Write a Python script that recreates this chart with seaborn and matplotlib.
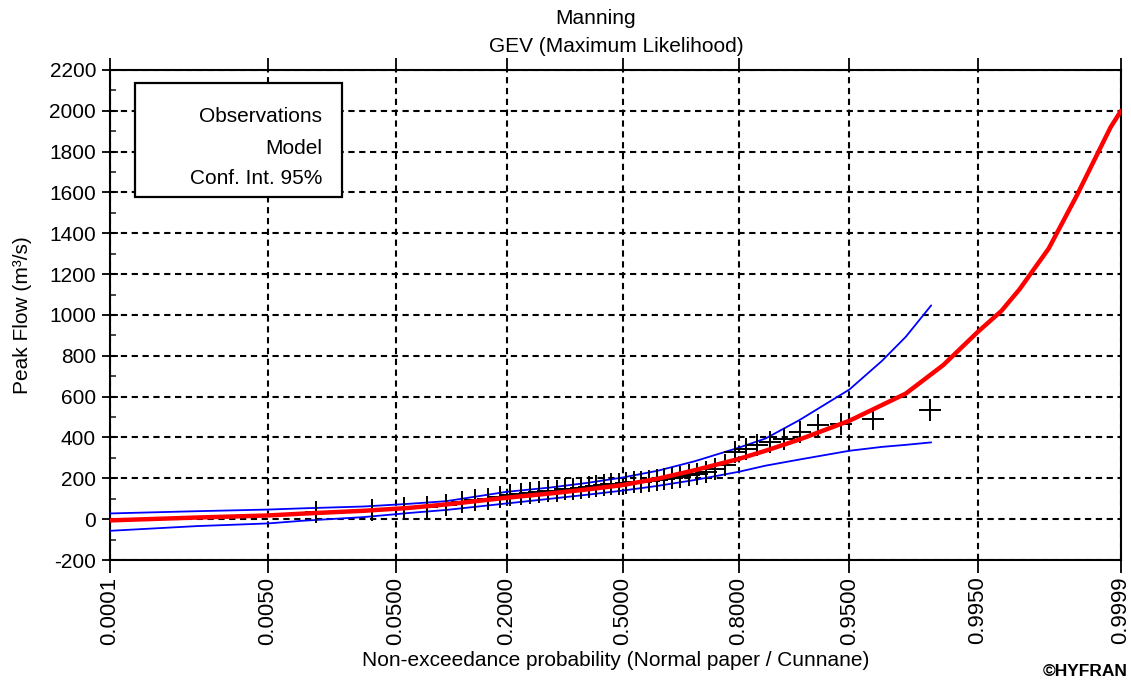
import math
import numpy as np
import pandas as pd
import matplotlib
matplotlib.use("Agg")
import matplotlib.pyplot as plt
from matplotlib.patches import Rectangle
from matplotlib.ticker import MultipleLocator, FixedLocator, FixedFormatter, FuncFormatter
import seaborn as sns

# ---------------- data ----------------
model_p = [0.0001, 0.001, 0.005, 0.01, 0.03, 0.06, 0.1, 0.2, 0.3, 0.4, 0.5,
           0.6, 0.7, 0.8, 0.85, 0.9, 0.95, 0.98, 0.99, 0.995, 0.997, 0.998,
           0.999, 0.9995, 0.9998, 0.99985]
model_q = [-6, 8, 18, 27, 41, 55, 72, 105, 126, 146, 167,
           198, 240, 295, 335, 390, 482, 615, 755, 917, 1020, 1125,
           1325, 1580, 1920, 2000]

ci_p = [0.0001, 0.001, 0.005, 0.01, 0.03, 0.06, 0.1, 0.2, 0.3, 0.4, 0.5,
        0.6, 0.7, 0.8, 0.85, 0.9, 0.95, 0.97, 0.98, 0.9874]
ci_upper = [28, 39, 47, 53, 62, 75, 88, 134, 155, 178, 204,
            237, 284, 350, 395, 485, 635, 775, 893, 1047]
ci_lower = [-57, -34, -21, -8, 10, 30, 45, 77, 100, 120, 140,
            163, 192, 232, 262, 292, 335, 354, 364, 376]

# observed annual peak flows, sorted ascending (plotted at Cunnane positions)
obs_q = [36, 44, 54, 60, 69, 85, 93, 101, 109, 120,
         124, 128, 132, 136, 140, 146, 150, 153, 158, 162,
         166, 170, 172, 176, 180, 183, 187, 192, 197, 202,
         208, 214, 222, 232, 245, 265, 330, 346, 363, 379,
         391, 428, 461, 465, 489, 534]

x_ticks = [0.0001, 0.0050, 0.0500, 0.2000, 0.5000, 0.8000, 0.9500, 0.9950, 0.99985]
x_tick_labels = ["0.0001", "0.0050", "0.0500", "0.2000", "0.5000",
                 "0.8000", "0.9500", "0.9950", "0.9999"]
y_ticks = list(range(-200, 2201, 200))

title_lines = ["Manning", "GEV (Maximum Likelihood)"]
legend_labels = ["Observations", "Model", "Conf. Int. 95%"]

# ---------------- normal probability scale ----------------
_a = [-3.969683028665376e+01, 2.209460984245205e+02, -2.759285104469687e+02,
      1.383577518672690e+02, -3.066479806614716e+01, 2.506628277459239e+00]
_b = [-5.447609879822406e+01, 1.615858368580409e+02, -1.556989798598866e+02,
      6.680131188771972e+01, -1.328068155288572e+01]
_c = [-7.784894002430293e-03, -3.223964580411365e-01, -2.400758277161838e+00,
      -2.549732539343734e+00, 4.374664141464968e+00, 2.938163982698783e+00]
_d = [7.784695709041462e-03, 3.224671290700398e-01, 2.445134137142996e+00,
      3.754408661907416e+00]


def _ppf_scalar(p):
    p = min(max(p, 1e-12), 1 - 1e-12)
    plow = 0.02425
    if p < plow:
        q = math.sqrt(-2 * math.log(p))
        return (((((_c[0]*q+_c[1])*q+_c[2])*q+_c[3])*q+_c[4])*q+_c[5]) / \
               ((((_d[0]*q+_d[1])*q+_d[2])*q+_d[3])*q+1)
    if p > 1 - plow:
        q = math.sqrt(-2 * math.log(1 - p))
        return -(((((_c[0]*q+_c[1])*q+_c[2])*q+_c[3])*q+_c[4])*q+_c[5]) / \
                ((((_d[0]*q+_d[1])*q+_d[2])*q+_d[3])*q+1)
    q = p - 0.5
    r = q * q
    return (((((_a[0]*r+_a[1])*r+_a[2])*r+_a[3])*r+_a[4])*r+_a[5])*q / \
           (((((_b[0]*r+_b[1])*r+_b[2])*r+_b[3])*r+_b[4])*r+1)


def forward(p):
    arr = np.asarray(p, dtype=float)
    out = np.array([_ppf_scalar(v) if np.isfinite(v) else v for v in arr.ravel()])
    return out.reshape(arr.shape)


def inverse(z):
    arr = np.asarray(z, dtype=float)
    out = np.array([0.5 * (1 + math.erf(v / math.sqrt(2))) if np.isfinite(v) else v
                    for v in arr.ravel()])
    return out.reshape(arr.shape)


# ---------------- styling ----------------
sns.set_theme(style="white")
plt.rcParams["font.family"] = ["Liberation Sans", "DejaVu Sans"]
plt.rcParams["axes.linewidth"] = 1.5

fig = plt.figure(figsize=(11.31, 6.85), dpi=100)
ax = fig.add_axes([110 / 1131, 1 - 560 / 685, 1011 / 1131, 490 / 685])
ax.set_xscale("function", functions=(forward, inverse))

n = len(obs_q)
obs_p = [(i + 1 - 0.4) / (n + 0.2) for i in range(n)]

model_df = pd.DataFrame({"p": model_p, "q": model_q})
ci_df = pd.DataFrame({"p": ci_p, "upper": ci_upper, "lower": ci_lower})
obs_df = pd.DataFrame({"p": obs_p, "q": obs_q})

sns.lineplot(data=ci_df, x="p", y="upper", ax=ax, color="#0000ff", lw=1.3,
             estimator=None, zorder=3)
sns.lineplot(data=ci_df, x="p", y="lower", ax=ax, color="#0000ff", lw=1.3,
             estimator=None, zorder=3)
sns.scatterplot(data=obs_df, x="p", y="q", ax=ax, marker="+", s=230,
                color="black", linewidth=1.4, zorder=4)
sns.lineplot(data=model_df, x="p", y="q", ax=ax, color="#ff0000", lw=3.2,
             estimator=None, zorder=5)

ax.set_xlim(x_ticks[0], x_ticks[-1])
ax.set_ylim(-200, 2200)

ax.xaxis.set_major_locator(FixedLocator(x_ticks))
ax.xaxis.set_major_formatter(FixedFormatter(x_tick_labels))
ax.xaxis.set_minor_locator(FixedLocator([]))
ax.yaxis.set_major_locator(FixedLocator(y_ticks))
ax.yaxis.set_minor_locator(MultipleLocator(100))
ax.yaxis.set_major_formatter(FuncFormatter(lambda v, _: f"{int(round(v))}"))

ax.tick_params(axis="x", which="major", direction="out", length=9, width=1.3,
               labelsize=16, labelrotation=90, pad=3, colors="black",
               top=True, bottom=True)
ax.tick_params(axis="y", which="major", direction="inout", length=12, width=1.3,
               labelsize=15, pad=4, colors="black", left=True, right=False)
ax.tick_params(axis="y", which="minor", direction="in", length=4, width=1.2,
               left=True, right=False)

ax.grid(True, which="major", color="black", linestyle=(0, (3, 2.2)), linewidth=1.5)
ax.set_axisbelow(True)
for s in ax.spines.values():
    s.set_color("black")
    s.set_linewidth(1.5)

ax.set_xlabel("Non-exceedance probability (Normal paper / Cunnane)", fontsize=15,
              color="black")
ax.set_ylabel("Peak Flow (m³/s)", fontsize=15, color="black")
ax.xaxis.set_label_coords(0.5, (560 - 651) / 490)
ax.yaxis.set_label_coords((32 - 110) / 1011, 0.5)

# titles
fig.text(596 / 1131, 1 - 18 / 685, title_lines[0], ha="center", va="center",
         fontsize=15, color="black")
fig.text(616 / 1131, 1 - 47 / 685, title_lines[1], ha="center", va="center",
         fontsize=15, color="black")

# legend box (text only)
ax.add_patch(Rectangle((25 / 1011, (560 - 197) / 490), (342 - 135) / 1011,
                       (197 - 83) / 490, transform=ax.transAxes, facecolor="white",
                       edgecolor="black", linewidth=1.6, zorder=10))
for lab, ypix in zip(legend_labels, [117, 149, 178]):
    ax.text((322 - 110) / 1011, (560 - ypix) / 490, lab, transform=ax.transAxes,
            ha="right", va="center", fontsize=15, color="black", zorder=11)

fig.text(1128 / 1131, 1 - 672 / 685, "©HYFRAN", ha="right", va="center",
         fontsize=12.5, fontweight="bold", color="black")

fig.savefig("out.png", dpi=100, facecolor="white")
